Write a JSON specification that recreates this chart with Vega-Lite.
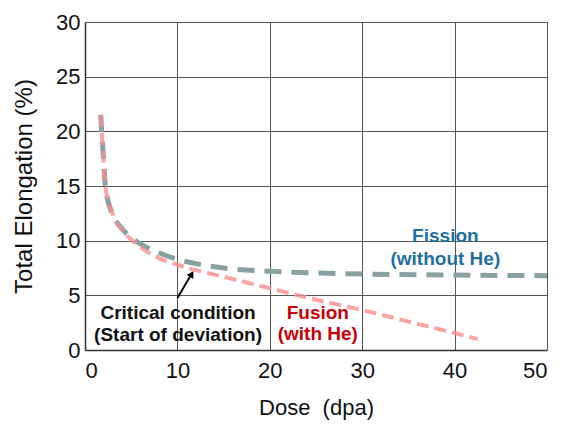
{
  "$schema": "https://vega.github.io/schema/vega-lite/v6.json",
  "width": 462,
  "height": 328,
  "autosize": {"type": "none"},
  "padding": {"left": 85, "top": 22, "right": 14, "bottom": 78},
  "config": {
    "view": {"stroke": null},
    "font": "Liberation Sans",
    "axis": {
      "labelFont": "Liberation Sans",
      "titleFont": "Liberation Sans",
      "labelFontSize": 22,
      "titleFontSize": 22,
      "titleFontWeight": "normal",
      "labelColor": "#111",
      "titleColor": "#111",
      "gridColor": "#555",
      "gridOpacity": 1,
      "gridWidth": 1,
      "domainColor": "#333",
      "domainWidth": 1.5,
      "ticks": false
    }
  },
  "datasets": {
    "curves": [
      {"series": "Fission", "dose": 1.7, "elong": 21.5},
      {"series": "Fission", "dose": 2.0, "elong": 17.5},
      {"series": "Fission", "dose": 2.2, "elong": 15.0},
      {"series": "Fission", "dose": 2.6, "elong": 13.3},
      {"series": "Fission", "dose": 3.1, "elong": 12.2},
      {"series": "Fission", "dose": 4.0, "elong": 11.1},
      {"series": "Fission", "dose": 5.0, "elong": 10.3},
      {"series": "Fission", "dose": 6.0, "elong": 9.7},
      {"series": "Fission", "dose": 8.0, "elong": 8.9},
      {"series": "Fission", "dose": 10.0, "elong": 8.3},
      {"series": "Fission", "dose": 12.0, "elong": 7.9},
      {"series": "Fission", "dose": 15.0, "elong": 7.5},
      {"series": "Fission", "dose": 20.0, "elong": 7.2},
      {"series": "Fission", "dose": 25.0, "elong": 7.05},
      {"series": "Fission", "dose": 30.0, "elong": 6.95},
      {"series": "Fission", "dose": 40.0, "elong": 6.85},
      {"series": "Fission", "dose": 50.0, "elong": 6.8},
      {"series": "Fusion", "dose": 1.7, "elong": 21.5},
      {"series": "Fusion", "dose": 2.0, "elong": 17.5},
      {"series": "Fusion", "dose": 2.2, "elong": 15.0},
      {"series": "Fusion", "dose": 2.6, "elong": 13.5},
      {"series": "Fusion", "dose": 3.1, "elong": 12.2},
      {"series": "Fusion", "dose": 4.0, "elong": 11.0},
      {"series": "Fusion", "dose": 5.0, "elong": 10.1},
      {"series": "Fusion", "dose": 6.0, "elong": 9.4},
      {"series": "Fusion", "dose": 8.0, "elong": 8.4},
      {"series": "Fusion", "dose": 10.0, "elong": 7.8},
      {"series": "Fusion", "dose": 12.0, "elong": 7.3},
      {"series": "Fusion", "dose": 15.0, "elong": 6.7},
      {"series": "Fusion", "dose": 20.0, "elong": 5.65},
      {"series": "Fusion", "dose": 25.0, "elong": 4.6},
      {"series": "Fusion", "dose": 30.0, "elong": 3.65},
      {"series": "Fusion", "dose": 35.0, "elong": 2.6},
      {"series": "Fusion", "dose": 40.0, "elong": 1.55},
      {"series": "Fusion", "dose": 42.5, "elong": 1.0}
    ],
    "labels": [
      {"dose": 10.07, "elong": 3.4, "text": "Critical condition", "color": "#111111"},
      {"dose": 10.07, "elong": 1.4, "text": "(Start of deviation)", "color": "#111111"},
      {"dose": 25.2, "elong": 3.4, "text": "Fusion", "color": "#c8000a"},
      {"dose": 25.2, "elong": 1.45, "text": "(with He)", "color": "#c8000a"},
      {"dose": 39.0, "elong": 10.4, "text": "Fission", "color": "#1f6f9f"},
      {"dose": 39.0, "elong": 8.3, "text": "(without He)", "color": "#1f6f9f"}
    ],
    "arrow": [
      {"dose": 10.0, "elong": 4.75},
      {"dose": 11.5, "elong": 6.9}
    ],
    "arrowhead": [
      {"dose": 11.55, "elong": 6.95}
    ]
  },
  "layer": [
    {
      "data": {"name": "curves"},
      "transform": [{"filter": "datum.series === 'Fission'"}],
      "mark": {"type": "line", "color": "#88a2a2", "strokeWidth": 5, "strokeDash": [17, 10], "interpolate": "monotone"},
      "encoding": {
        "x": {"field": "dose", "type": "quantitative", "scale": {"domain": [0, 50], "nice": false}, "axis": {"values": [0, 10, 20, 30, 40, 50], "title": "Dose\u00a0\u00a0(dpa)", "titlePadding": 16, "labelPadding": 10}},
        "y": {"field": "elong", "type": "quantitative", "scale": {"domain": [0, 30], "nice": false}, "axis": {"values": [0, 5, 10, 15, 20, 25, 30], "title": "Total Elongation (%)", "titleFontSize": 24, "titlePadding": 19, "labelPadding": 5}},
        "order": {"field": "dose"}
      }
    },
    {
      "data": {"name": "curves"},
      "transform": [{"filter": "datum.series === 'Fusion'"}],
      "mark": {"type": "line", "color": "#f78e8e", "opacity": 0.8, "strokeWidth": 4, "strokeDash": [12, 6], "interpolate": "monotone"},
      "encoding": {
        "x": {"field": "dose", "type": "quantitative"},
        "y": {"field": "elong", "type": "quantitative"},
        "order": {"field": "dose"}
      }
    },
    {
      "data": {"name": "arrow"},
      "mark": {"type": "line", "color": "#000", "strokeWidth": 2},
      "encoding": {
        "x": {"field": "dose", "type": "quantitative"},
        "y": {"field": "elong", "type": "quantitative"}
      }
    },
    {
      "data": {"name": "arrowhead"},
      "mark": {"type": "point", "shape": "triangle-up", "filled": true, "color": "#000", "size": 60, "angle": 32, "opacity": 1},
      "encoding": {
        "x": {"field": "dose", "type": "quantitative"},
        "y": {"field": "elong", "type": "quantitative"}
      }
    },
    {
      "data": {"name": "labels"},
      "mark": {"type": "text", "font": "Liberation Sans", "fontWeight": "bold", "fontSize": 19, "align": "center", "baseline": "middle"},
      "encoding": {
        "x": {"field": "dose", "type": "quantitative"},
        "y": {"field": "elong", "type": "quantitative"},
        "text": {"field": "text"},
        "color": {"field": "color", "type": "nominal", "scale": null}
      }
    }
  ]
}
